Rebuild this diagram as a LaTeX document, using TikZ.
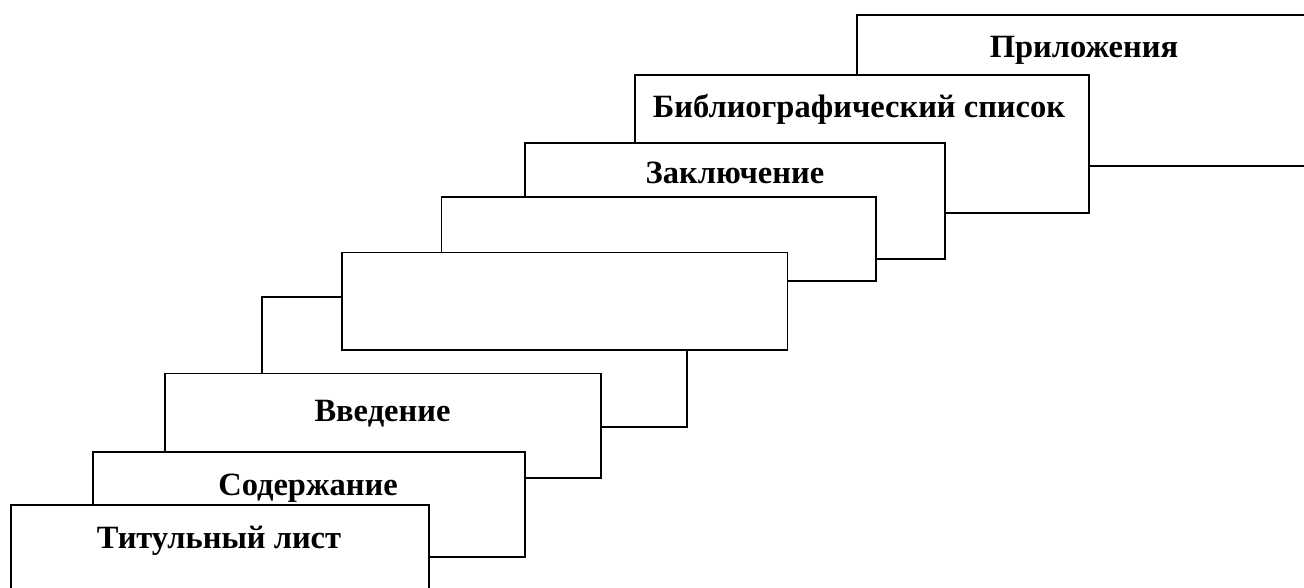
\documentclass[tikz,border=0pt]{standalone}
\usepackage{fontspec}
\setmainfont{Liberation Serif}
\begin{document}
\begin{tikzpicture}[x=1pt,y=-1pt,
  stepbox/.style={draw=black, line width=1.8pt, fill=white, rectangle, inner sep=0pt, outer sep=0pt},
  lbl/.style={anchor=base, inner sep=0pt, font=\fontsize{32.5}{38}\selectfont\bfseries}]
\useasboundingbox (0,0) rectangle (1304,587);
\clip (0,0) rectangle (1304,587);
\node[stepbox, minimum width=463pt, minimum height=151pt] (p) at (1088.5,90.5) {};
\node[lbl] (pl) at (1084,57) {Приложения};
\node[stepbox, minimum width=454pt, minimum height=138pt] (b) at (862,144) {};
\node[lbl] (bl) at (859,117) {Библиографический список};
\node[stepbox, minimum width=420pt, minimum height=116pt] (z) at (735,201) {};
\node[lbl] (zl) at (735,183.5) {Заключение};
\node[stepbox, minimum width=434.5pt, minimum height=84pt] (e4) at (658.75,239) {};
\node[stepbox, minimum width=425pt, minimum height=130pt] (h) at (474.5,362) {};
\node[stepbox, minimum width=445.5pt, minimum height=97.5pt] (e5) at (564.75,301.25) {};
\node[stepbox, minimum width=436pt, minimum height=104.5pt] (v) at (383,425.75) {};
\node[lbl] (vl) at (382.5,421) {Введение};
\node[stepbox, minimum width=432pt, minimum height=105pt] (s) at (309,504.5) {};
\node[lbl] (sl) at (308,495.5) {Содержание};
\node[stepbox, minimum width=418pt, minimum height=95pt] (t) at (220,552.5) {};
\node[lbl] (tl) at (219,548) {Титульный лист};
\end{tikzpicture}
\end{document}
